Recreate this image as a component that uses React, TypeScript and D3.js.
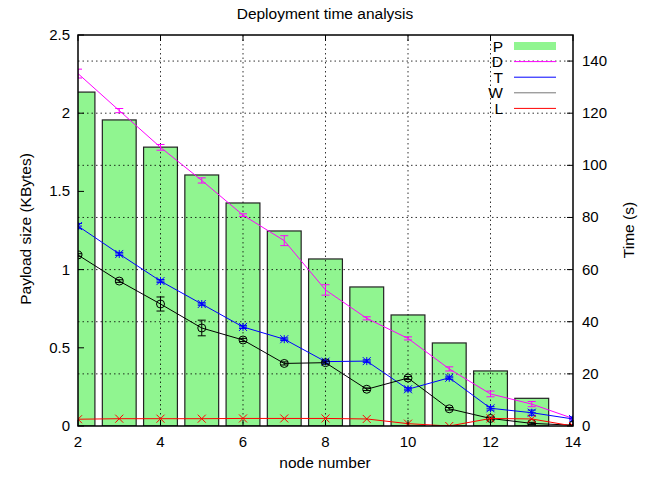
import React from "react";
import * as d3 from "d3";

const barNodes = [2, 3, 4, 5, 6, 7, 8, 9, 10, 11, 12, 13];
const payloadKB = [2.135, 1.957, 1.783, 1.605, 1.426, 1.247, 1.068, 0.889, 0.71, 0.531, 0.352, 0.177];

const nodes = [2, 3, 4, 5, 6, 7, 8, 9, 10, 11, 12, 13, 14];
const timeD = [135.2, 121.0, 106.9, 94.2, 80.9, 71.1, 52.2, 41.3, 33.6, 21.9, 12.3, 8.4, 2.9];
const errD = [1.7, 0.8, 1.1, 1.0, 0.5, 1.9, 2.0, 0.6, 0.6, 0.8, 1.1, 1.0, 0.3];
const timeT = [76.7, 66.0, 55.6, 46.8, 38.0, 33.3, 24.7, 24.9, 14.1, 18.5, 6.8, 5.1, 2.7];
const errT = [1.0, 0.6, 0.6, 0.5, 0.6, 0.5, 0.6, 0.5, 0.6, 0.6, 0.7, 1.0, 0.8];
const timeW = [65.6, 55.6, 46.8, 37.6, 33.0, 24.0, 24.3, 14.1, 18.4, 6.6, 2.9, 1.0, 0.3];
const errW = [0.5, 0.5, 2.7, 3.0, 0.6, 0.6, 0.6, 0.5, 0.6, 0.5, 0.5, 0.4, 0.3];
const timeL = [2.6, 2.8, 2.8, 2.8, 2.9, 2.9, 2.9, 2.7, 0.9, 0.0, 2.9, 2.7, 0.0];

const xTicks = [2, 4, 6, 8, 10, 12, 14];
const yLeftTicks = [0, 0.5, 1, 1.5, 2, 2.5];
const yLeftLabels = ["0", "0.5", "1", "1.5", "2", "2.5"];
const yRightTicks = [0, 20, 40, 60, 80, 100, 120, 140];

const legendLabels = ["P", "D", "T", "W", "L"];

const W = 661, H = 478;
const L = 78, R = 573, T = 35, B = 426;
const FONT = "'Liberation Sans', Arial, Helvetica, sans-serif";
const GREEN = "#90f590";

export default function App() {
  const x = d3.scaleLinear().domain([2, 14]).range([L, R]);
  const yL = d3.scaleLinear().domain([0, 2.5]).range([B, T]);
  const yR = d3.scaleLinear().domain([0, 150]).range([B, T]);
  const barW = (x(3) - x(2)) * 0.82;
  const line = d3.line<number>().x((_, i) => x(nodes[i])).y((d) => yR(d));

  const series = [
    { vals: timeD, errs: errD, color: "#ff00ff", marker: "none" },
    { vals: timeT, errs: errT, color: "#0000ff", marker: "star" },
    { vals: timeW, errs: errW, color: "#000000", marker: "circle" },
    { vals: timeL, errs: null as number[] | null, color: "#ff0000", marker: "cross" },
  ];

  const marker = (type: string, cx: number, cy: number, color: string, key: string) => {
    const s = 4;
    if (type === "star")
      return (
        <g key={key} stroke={color} strokeWidth={1}>
          <line x1={cx - s} x2={cx + s} y1={cy} y2={cy} />
          <line x1={cx} x2={cx} y1={cy - s} y2={cy + s} />
          <line x1={cx - s} x2={cx + s} y1={cy - s} y2={cy + s} />
          <line x1={cx - s} x2={cx + s} y1={cy + s} y2={cy - s} />
        </g>
      );
    if (type === "circle")
      return <circle key={key} cx={cx} cy={cy} r={4} fill="none" stroke={color} strokeWidth={1} />;
    if (type === "cross")
      return (
        <g key={key} stroke={color} strokeWidth={1}>
          <line x1={cx - s} x2={cx + s} y1={cy - s} y2={cy + s} />
          <line x1={cx - s} x2={cx + s} y1={cy + s} y2={cy - s} />
        </g>
      );
    return null;
  };

  return (
    <svg width={W} height={H} style={{ position: "absolute", left: 0, top: 0 }} fontFamily={FONT}>
      <rect width={W} height={H} fill="#fff" />
      <defs>
        <clipPath id="plot">
          <rect x={L} y={T} width={R - L} height={B - T} />
        </clipPath>
      </defs>
      <g clipPath="url(#plot)">
        {barNodes.map((n, i) => (
          <rect
            key={n}
            x={x(n) - barW / 2}
            y={yL(payloadKB[i])}
            width={barW}
            height={B - yL(payloadKB[i])}
            fill={GREEN}
            stroke="#222"
            strokeWidth={1.2}
          />
        ))}
      </g>
      {/* grid */}
      <g stroke="#000" strokeWidth={1} strokeDasharray="1.5,3" opacity={0.8}>
        {xTicks.slice(1, -1).map((t) => (
          <line key={t} x1={x(t)} x2={x(t)} y1={T} y2={B} />
        ))}
        {yRightTicks.slice(1).map((t) => (
          <line key={t} x1={L} x2={R} y1={yR(t)} y2={yR(t)} />
        ))}
      </g>
      {/* series */}
      <g clipPath="url(#plot)">
        {series.map((s, si) => (
          <g key={si}>
            <path d={line(s.vals) || ""} fill="none" stroke={s.color} strokeWidth={1} />
            {s.errs &&
              s.vals.map((v, i) => {
                const cx = x(nodes[i]);
                const e = s.errs![i];
                return (
                  <g key={i} stroke={s.color} strokeWidth={1}>
                    <line x1={cx} x2={cx} y1={yR(v - e)} y2={yR(v + e)} />
                    <line x1={cx - 4} x2={cx + 4} y1={yR(v - e)} y2={yR(v - e)} />
                    <line x1={cx - 4} x2={cx + 4} y1={yR(v + e)} y2={yR(v + e)} />
                  </g>
                );
              })}
            {s.vals.map((v, i) => marker(s.marker, x(nodes[i]), yR(v), s.color, "m" + i))}
          </g>
        ))}
      </g>
      {/* frame */}
      <rect x={L} y={T} width={R - L} height={B - T} fill="none" stroke="#000" strokeWidth={1.5} />
      {/* ticks */}
      <g stroke="#000" strokeWidth={1}>
        {xTicks.map((t) => (
          <g key={t}>
            <line x1={x(t)} x2={x(t)} y1={B} y2={B - 6} />
            <line x1={x(t)} x2={x(t)} y1={T} y2={T + 6} />
          </g>
        ))}
        {yLeftTicks.map((t) => (
          <line key={t} x1={L} x2={L + 6} y1={yL(t)} y2={yL(t)} />
        ))}
        {yRightTicks.map((t) => (
          <line key={t} x1={R} x2={R - 6} y1={yR(t)} y2={yR(t)} />
        ))}
      </g>
      {/* tick labels */}
      <g fontSize={15} fill="#000">
        {xTicks.map((t) => (
          <text key={t} x={x(t)} y={447} textAnchor="middle">{t}</text>
        ))}
        {yLeftTicks.map((t, i) => (
          <text key={t} x={70} y={yL(t) + 5} textAnchor="end">{yLeftLabels[i]}</text>
        ))}
        {yRightTicks.map((t) => (
          <text key={t} x={582} y={yR(t) + 5} textAnchor="start">{t}</text>
        ))}
      </g>
      {/* titles */}
      <text x={325} y={19} textAnchor="middle" fontSize={15.5}>Deployment time analysis</text>
      <text x={325} y={468} textAnchor="middle" fontSize={15.5}>node number</text>
      <text transform={`translate(31,${229}) rotate(-90)`} textAnchor="middle" fontSize={15.5}>Payload size (KBytes)</text>
      <text transform={`translate(634,${230}) rotate(-90)`} textAnchor="middle" fontSize={15.5}>Time (s)</text>
      {/* legend */}
      <g fontSize={15.5}>
        {legendLabels.map((lab, i) => {
          const cy = 46 + i * 15.6;
          return (
            <g key={lab}>
              <text x={503} y={cy + 5.5} textAnchor="end">{lab}</text>
              {i === 0 ? (
                <rect x={514} y={cy - 4} width={42} height={8} fill={GREEN} />
              ) : (
                <line
                  x1={514}
                  x2={556}
                  y1={cy}
                  y2={cy}
                  stroke={i === 3 ? "#777" : series[i - 1].color}
                  strokeWidth={1}
                />
              )}
            </g>
          );
        })}
      </g>
    </svg>
  );
}
